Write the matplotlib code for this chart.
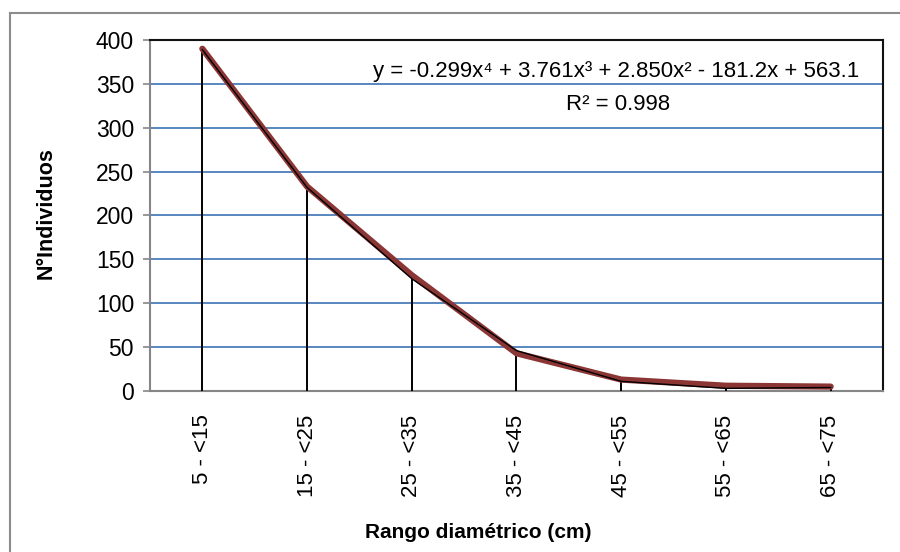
import matplotlib
matplotlib.use("Agg")
import matplotlib.pyplot as plt
from matplotlib.lines import Line2D

plt.rcParams['font.family'] = ['Liberation Sans', 'DejaVu Sans']

categories = ["5 - <15", "15 - <25", "25 - <35", "35 - <45", "45 - <55", "55 - <65", "65 - <75"]
individuos = [389, 232, 128, 46, 11, 3, 4]
tendencia = [390, 233, 132, 43, 13, 6, 5]
y_ticks = [0, 50, 100, 150, 200, 250, 300, 350, 400]
equation = "y = -0.299x\u2074 + 3.761x\u00b3 + 2.850x\u00b2 - 181.2x + 563.1"
r2_text = "R\u00b2 = 0.998"

W, H = 900, 552
fig = plt.figure(figsize=(W / 100, H / 100), dpi=100)
ax = fig.add_axes([150 / W, (H - 391) / H, 733 / W, 351 / H])

# outer chart border
fig.add_artist(Line2D([9.5 / W, 9.5 / W], [0, (H - 13) / H], color='#8c8c8c', lw=1.5,
                      transform=fig.transFigure))
fig.add_artist(Line2D([9.5 / W, 1], [(H - 13) / H, (H - 13) / H], color='#8c8c8c', lw=1.5,
                      transform=fig.transFigure))

x = list(range(1, len(categories) + 1))

ax.set_xlim(0.5, len(categories) + 0.5)
ax.set_ylim(0, 400)
ax.set_yticks(y_ticks)
ax.yaxis.grid(True, color='#4a7ebb', lw=1.3)
ax.set_axisbelow(True)

ax.vlines(x, 0, individuos, color='black', lw=1.4, zorder=3)
ax.plot(x, tendencia, color='#8b3634', lw=4.5, solid_capstyle='round',
        solid_joinstyle='round', zorder=4)
ax.plot(x, individuos, color='black', lw=1.0, zorder=5)

ax.set_xticks(x)
ax.set_xticklabels(categories, rotation=90, fontsize=16)
ax.tick_params(axis='x', length=0, pad=17)
ax.tick_params(axis='y', length=5, width=1.2, color='#868686', labelsize=16.5, pad=6.5)

for s in ['left', 'bottom']:
    ax.spines[s].set_color('#868686')
    ax.spines[s].set_linewidth(1.5)
for s in ['top', 'right']:
    ax.spines[s].set_color('#111111')
    ax.spines[s].set_linewidth(1.5)

fig.text(46 / W, (H - 213) / H, "N\u00b0Individuos", fontsize=15.5, fontweight='bold',
         rotation=90, ha='center', va='center')
fig.text(478 / W, (H - 533) / H, "Rango diamétrico (cm)", fontsize=15, fontweight='bold',
         ha='center', va='center')

fig.text(616 / W, (H - 72) / H, equation, fontsize=16, ha='center', va='center')
fig.text(618 / W, (H - 104) / H, r2_text, fontsize=16, ha='center', va='center')

fig.savefig("out.png", dpi=100, facecolor='white')
